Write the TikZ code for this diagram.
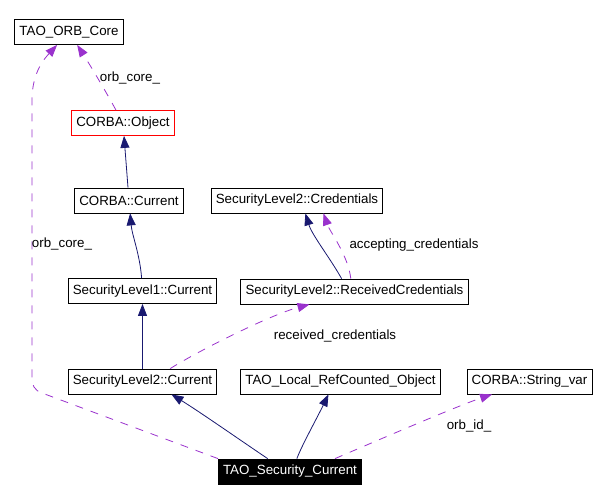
\documentclass[tikz,border=0pt]{standalone}
\usepackage{fontspec}
\setmainfont{Liberation Sans}
\usetikzlibrary{arrows.meta}
\definecolor{inhcol}{HTML}{191970}
\definecolor{usecol}{HTML}{9A32CD}
\begin{document}
\begin{tikzpicture}[x=0.75pt,y=-0.75pt]
\tikzset{class box/.style={draw=#1,rectangle,minimum height=18.75pt,inner xsep=3.5pt,inner ysep=0pt,font=\fontsize{10}{12}\selectfont,line width=0.6pt},
class box/.default=black,
inherit/.style={draw=inhcol,line width=0.6pt,-{Triangle[length=9pt,width=6.75pt]}},
uses/.style={draw=usecol,line width=0.6pt,dash pattern=on 6pt off 6pt,-{Triangle[length=9pt,width=6.75pt]}},
edge label/.style={font=\fontsize{10}{12}\selectfont,inner sep=0pt}}
\useasboundingbox (0,0) rectangle (598,502);
\node[class box] (orbcore) at (69,32) {TAO\_ORB\_Core};
\node[class box=red] (object) at (123,123) {CORBA::Object};
\node[class box] (current) at (129,200.5) {CORBA::Current};
\node[class box] (cred) at (297,200.5) {SecurityLevel2::Credentials};
\node[class box] (sl1) at (142.5,291) {SecurityLevel1::Current};
\node[class box] (recv) at (354.5,291.5) {SecurityLevel2::ReceivedCredentials};
\node[class box] (sl2) at (142.5,381.5) {SecurityLevel2::Current};
\node[class box] (local) at (340.5,381.5) {TAO\_Local\_RefCounted\_Object};
\node[class box] (strvar) at (529.5,381.5) {CORBA::String\_var};
\node[class box,fill=black,text=white] (sec) at (290,471.5) {TAO\_Security\_Current};
% inheritance
\draw[inherit] (current) -- (object);
\draw[inherit] (sl1) .. controls (140,255) and (132,235) .. (current);
\draw[inherit] (sl2) -- (sl1);
\draw[inherit] (recv.135) .. controls (330,258) and (312,235) .. (cred.-57);
\draw[inherit] (sec.150) .. controls (240,440) and (200,412) .. (sl2.-24);
\draw[inherit] (sec.62) .. controls (302,445) and (316,420) .. (local.-133);
% members
\draw[uses] (object) .. controls (105,90) and (90,65) .. (orbcore);
\draw[uses] (sec.north west) -- (42,393) .. controls (34,390) and (32,386) .. (32,375) -- (32,100) .. controls (32,72) and (45,58) .. (orbcore);
\draw[uses] (recv.106) .. controls (348,255) and (330,232) .. (cred.-26);
\draw[uses] (sl2.25) .. controls (200,350) and (270,315) .. (recv.-164);
\draw[uses] (sec.16) .. controls (390,435) and (460,405) .. (strvar.-161);
\node[edge label] (lorb) at (130,78) {orb\_core\_};
\node[edge label] (lorbb) at (62,244) {orb\_core\_};
\node[edge label] (lacc) at (414,245) {accepting\_credentials};
\node[edge label] (lrecv) at (335,336) {received\_credentials};
\node[edge label] (lid) at (469,426) {orb\_id\_};
\end{tikzpicture}
\end{document}
